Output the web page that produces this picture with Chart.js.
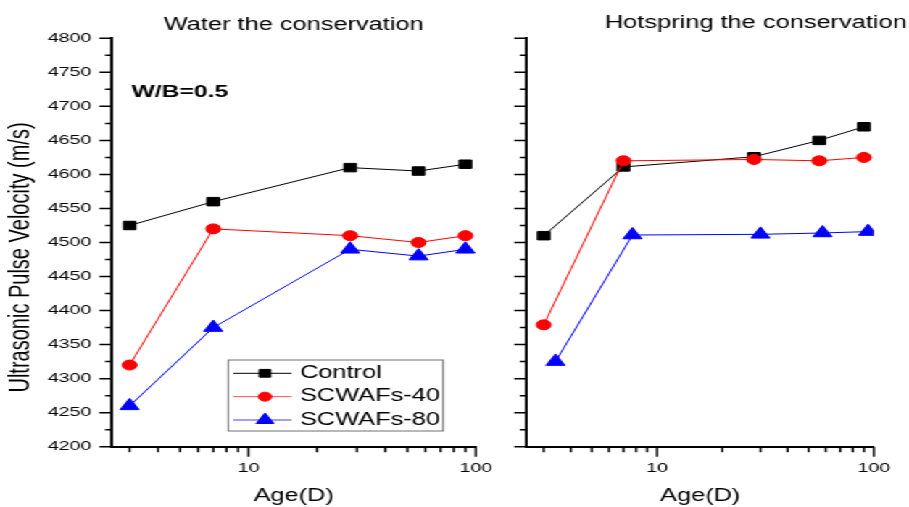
<!DOCTYPE html>
<html>
<head>
<meta charset="utf-8">
<title>Ultrasonic Pulse Velocity</title>
<script src="https://cdn.jsdelivr.net/npm/chart.js@4.4.0/dist/chart.umd.min.js"></script>
<style>
  html, body { margin: 0; padding: 0; background: #fff; overflow: hidden; }
  /* the original figure is stretched horizontally, so the charts are drawn narrow and widened */
  #wrap { position: relative; width: 627px; height: 507px; transform: scaleX(1.4498); transform-origin: 0 0; }
  #wrap canvas { position: absolute; left: 0; top: 0; }
</style>
</head>
<body>
<div id="wrap">
  <canvas id="water" width="627" height="507"></canvas>
  <canvas id="hotspring" width="627" height="507"></canvas>
</div>
<script>
// ages (days)
const ageDays = [3, 7, 28, 56, 90];
const ageDaysHot80 = [3.4, 7.7, 30, 58, 94];

// water conservation
const waterControl = [4525, 4560, 4610, 4605, 4615];
const waterScwafs40 = [4320, 4520, 4510, 4500, 4510];
const waterScwafs80 = [4260, 4375, 4490, 4480, 4490];

// hotspring conservation
const hotControl = [4510, 4611, 4626, 4650, 4670];
const hotScwafs40 = [4379, 4620, 4622, 4620, 4625];
const hotScwafs80 = [4325, 4511, 4512, 4514, 4516];

const seriesNames = ['Control', 'SCWAFs-40', 'SCWAFs-80'];
const panelTitles = ['Water the conservation', 'Hotspring the conservation'];

const xTicks = [3, 4, 5, 6, 7, 8, 9, 10, 20, 30, 40, 50, 60, 70, 80, 90, 100];
const xTickLabels = [10, 100];
const yTicks = [4200, 4225, 4250, 4275, 4300, 4325, 4350, 4375, 4400, 4425, 4450, 4475, 4500,
  4525, 4550, 4575, 4600, 4625, 4650, 4675, 4700, 4725, 4750, 4775, 4800];
const yTickLabels = [4200, 4250, 4300, 4350, 4400, 4450, 4500, 4550, 4600, 4650, 4700, 4750, 4800];

const FONT = 'Arial, "Liberation Sans", Helvetica, sans-serif';
const legendLineColors = ['#000000', '#ff5050', '#a0a0ff'];
const legendLineWidths = [1, 1, 2.2];

function pairUp(xs, ys) {
  return xs.map((x, i) => ({ x: x, y: ys[i] }));
}

function makeDatasets(ctrl, s40, xs80, s80) {
  return [
    {
      label: seriesNames[0], data: pairUp(ageDays, ctrl),
      borderColor: '#000000', backgroundColor: '#000000', borderWidth: 1,
      pointStyle: 'rect', pointRadius: 6, pointBorderWidth: 1, order: 3
    },
    {
      label: seriesNames[1], data: pairUp(ageDays, s40),
      borderColor: '#ff0000', backgroundColor: '#ff0000', borderWidth: 1,
      pointStyle: 'circle', pointRadius: 5, pointBorderWidth: 1, order: 2
    },
    {
      label: seriesNames[2], data: pairUp(xs80, s80),
      borderColor: '#0000ff', backgroundColor: '#0000ff', borderWidth: 1,
      pointStyle: 'triangle', pointRadius: 7.5, pointBorderWidth: 1, order: 1
    }
  ];
}

// tick marks drawn outward, long ones for labelled ticks
const tickMarks = {
  id: 'tickMarks',
  afterDraw(chart) {
    const ctx = chart.ctx;
    const xs = chart.scales.x;
    const ys = chart.scales.y;
    ctx.save();
    ctx.strokeStyle = '#000';
    ctx.lineWidth = 1.5;
    ctx.beginPath();
    xs.ticks.forEach((t) => {
      const px = xs.getPixelForValue(t.value);
      const len = xTickLabels.includes(t.value) ? 10 : 5.5;
      ctx.moveTo(px, xs.top);
      ctx.lineTo(px, xs.top + len);
    });
    ys.ticks.forEach((t) => {
      const py = ys.getPixelForValue(t.value);
      const len = yTickLabels.includes(t.value) ? 8.5 : 4.5;
      ctx.moveTo(ys.right, py);
      ctx.lineTo(ys.right - len, py);
    });
    ctx.stroke();
    ctx.restore();
  }
};

// legend with line + marker, inside the left panel
const legendBox = {
  id: 'legendBox',
  afterDraw(chart) {
    const { ctx, chartArea } = chart;
    const left = chartArea.left + 80.4;
    const top = 360;
    ctx.save();
    ctx.fillStyle = '#fff';
    ctx.fillRect(left, top, 148.3, 71);
    ctx.strokeStyle = '#707070';
    ctx.lineWidth = 1;
    ctx.strokeRect(left, top, 148.3, 71);
    chart.data.datasets.forEach((ds, i) => {
      const y = 373.3 + i * 23.35;
      ctx.strokeStyle = legendLineColors[i];
      ctx.lineWidth = legendLineWidths[i];
      ctx.beginPath();
      ctx.moveTo(left + 3.5, y);
      ctx.lineTo(left + 43.8, y);
      ctx.stroke();
      ctx.fillStyle = ds.backgroundColor;
      ctx.strokeStyle = ds.borderColor;
      ctx.lineWidth = 1;
      Chart.helpers.drawPoint(ctx, {
        pointStyle: ds.pointStyle, radius: ds.pointRadius - 0.5, borderWidth: 1, rotation: 0
      }, left + 25.4, y);
      ctx.fillStyle = '#000';
      ctx.font = '17.5px ' + FONT;
      ctx.textAlign = 'left';
      ctx.textBaseline = 'middle';
      ctx.fillText(ds.label, left + 49.5, y);
    });
    ctx.restore();
  }
};

// y axis title and the W/B note on the left panel
const leftNotes = {
  id: 'leftNotes',
  afterDraw(chart) {
    const { ctx, chartArea } = chart;
    ctx.save();
    ctx.fillStyle = '#000';
    ctx.font = 'bold 17px ' + FONT;
    ctx.textAlign = 'left';
    ctx.textBaseline = 'middle';
    ctx.fillText('W/B=0.5', chartArea.left + 13.8, 92);
    ctx.translate(14.8, 257.5);
    ctx.rotate(-Math.PI / 2);
    ctx.font = '20px ' + FONT;
    ctx.textAlign = 'center';
    ctx.fillText('Ultrasonic Pulse Velocity (m/s)', 0, 0);
    ctx.restore();
  }
};

function baseScales(showYLabels, yWidth) {
  return {
    x: {
      type: 'logarithmic',
      min: 2.5,
      max: 100,
      afterBuildTicks: (s) => { s.ticks = xTicks.map((v) => ({ value: v })); },
      afterFit: (s) => { s.height = 60.3; },
      grid: { display: true, drawOnChartArea: false, drawTicks: false },
      border: { display: true, color: '#000', width: 2 },
      ticks: {
        autoSkip: false, maxRotation: 0, padding: 13, color: '#000',
        font: { family: FONT, size: 13.5 },
        callback: (v) => (xTickLabels.includes(v) ? String(v) : '')
      },
      title: {
        display: true, text: 'Age(D)', color: '#000',
        font: { family: FONT, size: 17.5 }, padding: { top: 0, bottom: 0 }
      }
    },
    y: {
      min: 4200,
      max: 4800,
      afterBuildTicks: (s) => { s.ticks = yTicks.map((v) => ({ value: v })); },
      afterFit: (s) => { s.width = yWidth; },
      grid: { display: true, drawOnChartArea: false, drawTicks: false },
      border: { display: true, color: '#000', width: 2 },
      ticks: {
        display: showYLabels, autoSkip: false, padding: 14, color: '#000',
        font: { family: FONT, size: 13.5 },
        callback: (v) => (yTickLabels.includes(v) ? String(v) : '')
      }
    }
  };
}

const waterScales = baseScales(true, 77);
new Chart(document.getElementById('water'), {
  type: 'line',
  data: { datasets: makeDatasets(waterControl, waterScwafs40, ageDays, waterScwafs80) },
  options: {
    responsive: false,
    animation: false,
    devicePixelRatio: 1,
    layout: { padding: { left: 0, right: 298.8, top: 0, bottom: 0 } },
    scales: waterScales,
    plugins: {
      legend: { display: false },
      tooltip: { enabled: false },
      title: {
        display: true, text: panelTitles[0], fullSize: false, color: '#000',
        font: { family: FONT, size: 17.5, weight: 'normal' },
        padding: { top: 14.5, bottom: 2.8 }
      }
    }
  },
  plugins: [tickMarks, legendBox, leftNotes]
});

const hotScales = baseScales(false, 20);
// invisible spacer on the right so the title can run to the edge
hotScales.yr = {
  position: 'right',
  display: true,
  afterFit: (s) => { s.width = 11; },
  grid: { display: false, drawTicks: false },
  border: { display: false },
  ticks: { display: false }
};
new Chart(document.getElementById('hotspring'), {
  type: 'line',
  data: { datasets: makeDatasets(hotControl, hotScwafs40, ageDaysHot80, hotScwafs80) },
  options: {
    responsive: false,
    animation: false,
    devicePixelRatio: 1,
    layout: { padding: { left: 343.2, right: 1.6, top: 0, bottom: 0 } },
    scales: hotScales,
    plugins: {
      legend: { display: false },
      tooltip: { enabled: false },
      title: {
        display: true, text: panelTitles[1], fullSize: true, align: 'end', color: '#000',
        font: { family: FONT, size: 17.5, weight: 'normal' },
        padding: { top: 13, bottom: 4.3 }
      }
    }
  },
  plugins: [tickMarks]
});
</script>
</body>
</html>
